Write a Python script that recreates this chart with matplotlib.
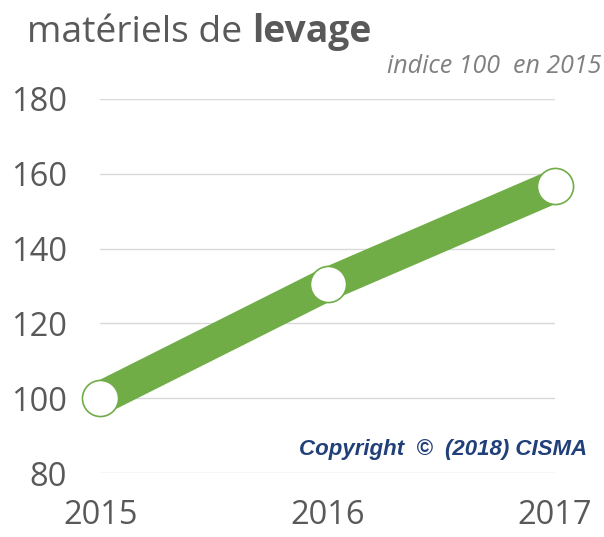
import matplotlib.pyplot as plt

# Data
years = [2015, 2016, 2017]
index_values = [100, 130.5, 156.7]
y_ticks = [80, 100, 120, 140, 160, 180]

GREEN = '#70AD47'
GRAY = '#595959'
FONT = 'Open Sans'


def main():
    fig = plt.figure(figsize=(6.04, 5.37), dpi=100)
    ax = fig.add_axes([0.166, 0.119, 0.753, 0.697])

    ax.plot(years, index_values, color=GREEN, linewidth=24, solid_capstyle='butt',
            solid_joinstyle='round', marker='o', markersize=26,
            markerfacecolor='white', markeredgecolor=GREEN, markeredgewidth=1.2,
            clip_on=False, zorder=3)

    ax.set_xlim(2015, 2017)
    ax.set_ylim(80, 180)
    ax.set_xticks(years)
    ax.set_xticklabels([str(y) for y in years])
    ax.set_yticks(y_ticks)
    ax.grid(axis='y', color='#D9D9D9', linewidth=1)
    ax.set_axisbelow(True)
    for s in ax.spines.values():
        s.set_visible(False)
    ax.tick_params(length=0, labelcolor=GRAY)
    ax.tick_params(axis='y', pad=24, labelsize=23.5)
    ax.tick_params(axis='x', pad=19, labelsize=23.5)
    for lbl in ax.get_xticklabels() + ax.get_yticklabels():
        lbl.set_fontfamily(FONT)

    # Title: regular part then bold part
    t1 = fig.text(27 / 604, 1 - 42 / 537, 'matériels de ', fontsize=26.8, color='#595959',
                  family=FONT, va='baseline', ha='left')
    fig.canvas.draw()
    bb = t1.get_window_extent()
    fig.text(bb.x1 / 604, 1 - 42 / 537, 'levage', fontsize=26.8, color='#595959',
             family=FONT, fontweight='bold', va='baseline', ha='left')

    fig.text(601 / 604, 1 - 73 / 537, 'indice 100  en 2015', fontsize=18, color='#808080',
             family=FONT, style='italic', va='baseline', ha='right')

    fig.text(587 / 604, 1 - 455 / 537, 'Copyright  ©  (2018) CISMA', fontsize=16,
             color='#213F78', family='Liberation Sans', style='italic',
             fontweight='bold', va='baseline', ha='right')

    fig.savefig('out.png', dpi=100)


if __name__ == '__main__':
    main()
